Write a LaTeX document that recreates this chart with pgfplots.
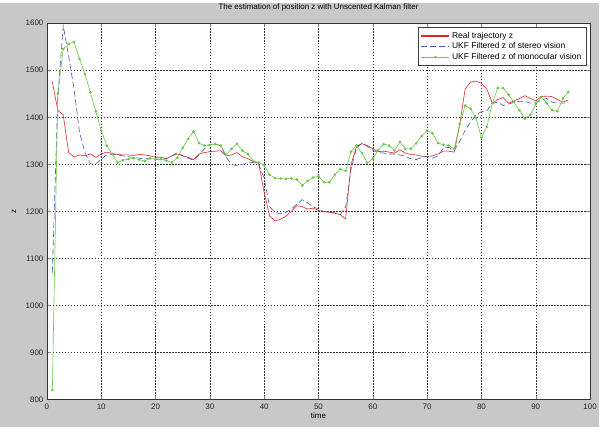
\documentclass[border=0pt]{standalone}
\usepackage{pgfplots}
\pgfplotsset{compat=1.18}
\usepackage{pgfplotstable}
\usepackage{fontspec}
\setmainfont{Liberation Sans}
\definecolor{figbg}{RGB}{200,200,200}
\definecolor{realred}{RGB}{225,40,40}
\definecolor{stereoblue}{RGB}{70,90,175}
\definecolor{monogreen}{RGB}{105,200,70}
\pgfplotstableread{
x real stereo mono
1 1475 1070 820
2 1415 1440 1450
3 1405 1595 1545
4 1325 1530 1556
5 1316 1460 1560
6 1320 1368 1524
7 1318 1325 1492
8 1322 1301 1453
9 1315 1301 1413
10 1322 1311 1372
11 1326 1320 1340
12 1323 1322 1322
13 1321 1320 1304
14 1320 1318 1309
15 1320 1316 1311
16 1319 1315 1313
17 1321 1313 1310
18 1320 1312 1307
19 1318 1312 1313
20 1315 1310 1311
21 1315 1310 1311
22 1312 1312 1308
23 1318 1318 1304
24 1322 1325 1314
25 1318 1318 1335
26 1315 1313 1354
27 1310 1309 1370
28 1322 1320 1345
29 1325 1333 1340
30 1327 1343 1341
31 1328 1343 1343
32 1329 1340 1340
33 1318 1315 1320
34 1320 1300 1333
35 1325 1297 1344
36 1316 1300 1329
37 1312 1303 1322
38 1306 1304 1307
39 1302 1300 1304
40 1240 1270 1298
41 1190 1210 1278
42 1180 1198 1271
43 1183 1195 1270
44 1190 1198 1269
45 1200 1205 1270
46 1212 1215 1268
47 1210 1225 1255
48 1205 1218 1265
49 1207 1210 1272
50 1202 1205 1275
51 1200 1200 1262
52 1198 1198 1262
53 1197 1196 1278
54 1193 1193 1290
55 1184 1210 1286
56 1300 1290 1327
57 1338 1335 1340
58 1344 1345 1324
59 1340 1338 1303
60 1333 1330 1312
61 1327 1325 1330
62 1328 1324 1343
63 1326 1322 1340
64 1324 1322 1329
65 1331 1320 1348
66 1324 1317 1333
67 1321 1312 1333
68 1320 1310 1345
69 1317 1315 1360
70 1317 1317 1372
71 1318 1313 1366
72 1322 1318 1345
73 1328 1335 1342
74 1328 1336 1340
75 1326 1330 1333
76 1385 1349 1385
77 1460 1372 1425
78 1475 1390 1418
79 1477 1405 1398
80 1472 1412 1357
81 1460 1414 1380
82 1430 1430 1430
83 1438 1432 1462
84 1442 1425 1462
85 1430 1428 1448
86 1435 1432 1432
87 1440 1434 1415
88 1446 1434 1397
89 1440 1430 1405
90 1435 1432 1428
91 1444 1436 1443
92 1445 1440 1430
93 1444 1432 1415
94 1438 1430 1413
95 1432 1430 1440
96 1437 1432 1454
}\data
\begin{document}
\begin{tikzpicture}
\fill[figbg] (-47bp,-27bp) rectangle (553bp,397bp);
\begin{axis}[
  at={(0,0)}, anchor=south west,
  scale only axis, width=544bp, height=377bp,
  xmin=0, xmax=100, ymin=800, ymax=1600,
  xtick={0,10,...,100}, ytick={800,900,...,1600},
  tick align=inside, xtick pos=both, ytick pos=both,
  major tick length=4bp,
  grid=major,
  major grid style={black!80, line width=0.4pt, dash pattern=on 1.5pt off 1.5pt},
  axis line style={black!80, line width=0.5pt},
  axis background/.style={fill=white},
  /pgf/number format/assume math mode=true,
  /pgf/number format/1000 sep={},
  tick label style={font=\fontsize{8}{9}\selectfont, text=black!85},
  xticklabel style={yshift=-1bp},
  title={The estimation of position z with Unscented Kalman filter},
  title style={font=\fontsize{8}{9}\selectfont, at={(axis description cs:0.5,1)}, anchor=south, yshift=3bp},
  xlabel={time},
  xlabel style={font=\fontsize{8}{9}\selectfont, at={(axis description cs:0.5,0)}, anchor=center, yshift=-16bp},
  ylabel={z},
  ylabel style={font=\fontsize{8}{9}\selectfont, at={(axis description cs:0,0.5)}, anchor=center, yshift=33bp},
  legend style={at={(0.9926,0.989)}, anchor=north east, draw=black!75, fill=white,
    font=\fontsize{8.5}{10}\selectfont, row sep=-1pt, inner sep=2.5pt},
  legend cell align=left,
  legend image code/.code={\draw[#1] (0bp,0bp) -- (28bp,0bp); \path[#1, draw=none] plot[mark indices={1}] coordinates {(14bp,0bp)};},
]
\addlegendimage{draw={rgb,255:red,225;green,40;blue,40}, line width=1.5pt}
\addlegendentry{Real trajectory z}
\addlegendimage{color=stereoblue, line width=0.6pt, dash pattern=on 6pt off 3pt}
\addlegendentry{UKF Filtered z of stereo vision}
\addlegendimage{color=monogreen, line width=0.6pt, mark=*, mark size=1pt, mark options={solid, draw=monogreen, fill=monogreen}}
\addlegendentry{UKF Filtered z of monocular vision}
\addplot[forget plot, color=realred, line width=0.6pt] table[x=x, y=real] {\data};
\addplot[forget plot, color=stereoblue, line width=0.6pt, dash pattern=on 6pt off 3pt] table[x=x, y=stereo] {\data};
\addplot[forget plot, color=monogreen, line width=0.6pt, mark=*, mark size=1pt, mark options={solid, fill=monogreen}] table[x=x, y=mono] {\data};
\end{axis}
\end{tikzpicture}
\end{document}
